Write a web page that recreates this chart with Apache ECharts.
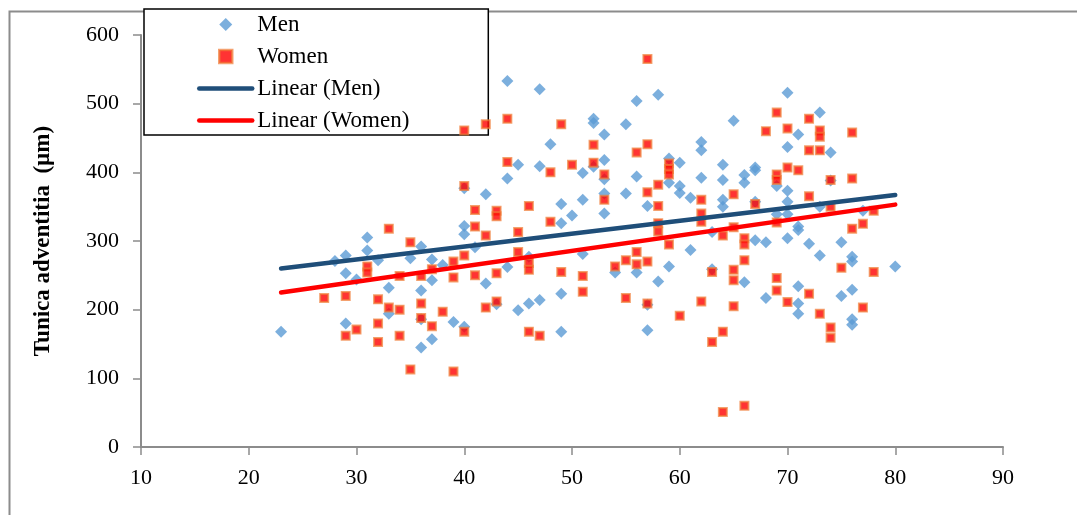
<!DOCTYPE html>
<html>
<head>
<meta charset="utf-8">
<script src="https://cdn.jsdelivr.net/npm/echarts@6/dist/echarts.min.js"></script>
<style>
html,body{margin:0;padding:0;background:#fff;}
#chart{width:1077px;height:515px;}
</style>
</head>
<body>
<div id="chart"></div>
<script>
// Age (years) vs Tunica adventitia thickness (µm)
var men = [
[23,168],[28,271],[29,279],[29,253],[29,180],[30,244],[31,305],[31,286],[32,272],[33,232],[33,194],
[35,275],[36,292],[36,228],[36,186],[36,145],[37,273],[37,243],[37,157],[38,265],[39,182],[40,377],
[40,322],[40,310],[40,175],[41,291],[42,368],[42,238],[43,208],[44,533],[44,391],[44,262],[45,411],
[45,199],[46,277],[46,209],[47,521],[47,409],[47,214],[48,441],[49,354],[49,326],[49,223],[49,168],
[50,337],[51,399],[51,360],[51,281],[52,478],[52,472],[52,408],[53,455],[53,418],[53,390],[53,369],
[53,340],[54,254],[55,470],[55,369],[56,504],[56,394],[56,254],[57,351],[57,207],[57,170],[58,513],
[58,241],[59,420],[59,385],[59,263],[60,414],[60,380],[60,370],[61,363],[61,287],[62,444],[62,432],
[62,392],[63,313],[63,259],[64,411],[64,389],[64,360],[64,350],[65,475],[66,396],[66,385],[66,240],
[67,407],[67,403],[67,357],[67,301],[68,298],[68,217],[69,380],[69,339],[70,516],[70,437],[70,373],
[70,357],[70,339],[70,304],[71,455],[71,321],[71,316],[71,234],[71,209],[71,194],[72,296],[73,487],
[73,350],[73,279],[74,429],[74,388],[75,298],[75,220],[76,277],[76,270],[76,229],[76,186],[76,178],
[77,344],[80,263]
];
var women = [
[27,217],[29,220],[29,162],[30,171],[31,263],[31,254],[32,215],[32,180],[32,153],[33,318],[33,203],
[34,249],[34,200],[34,162],[35,298],[35,113],[36,249],[36,209],[36,188],[37,259],[37,176],[38,197],
[39,270],[39,247],[39,110],[40,461],[40,380],[40,279],[40,168],[41,345],[41,321],[41,250],[42,470],
[42,308],[42,203],[43,344],[43,336],[43,253],[43,212],[44,478],[44,415],[45,313],[45,284],[46,351],
[46,268],[46,258],[46,168],[47,162],[48,400],[48,328],[49,470],[49,255],[50,411],[51,249],[51,226],
[52,440],[52,414],[53,397],[53,360],[54,263],[55,272],[55,217],[56,429],[56,284],[56,266],[57,565],
[57,441],[57,371],[57,270],[57,209],[58,382],[58,351],[58,326],[58,314],[59,413],[59,405],[59,397],
[59,295],[60,191],[62,360],[62,340],[62,328],[62,212],[63,255],[63,153],[64,308],[64,168],[64,51],
[65,368],[65,320],[65,258],[65,243],[65,205],[66,304],[66,295],[66,272],[66,60],[67,354],[68,460],
[69,487],[69,397],[69,389],[69,327],[69,246],[69,228],[70,464],[70,407],[70,211],[71,403],[72,478],
[72,432],[72,365],[72,223],[73,461],[73,452],[73,432],[73,194],[74,389],[74,350],[74,174],[74,159],
[75,261],[76,458],[76,391],[76,318],[77,325],[77,203],[78,344],[78,255]
];
var menTrend = [[23,260],[80,367]];
var womenTrend = [[23,225],[80,353]];
var seriesNames = ['Men','Women','Linear (Men)','Linear (Women)'];
var yTitle = 'Tunica adventitia  (\u00b5m)';

var FONT = 'Liberation Serif, Times New Roman, serif';
var DIAMOND = 'path://M0,-1L1,0L0,1L-1,0Z';
var SQUARE = 'path://M0,0L1,0L1,1L0,1Z';
var chart = echarts.init(document.getElementById('chart'), null, {renderer:'canvas'});
chart.setOption({
  backgroundColor:'#fff',
  animation:false,
  graphic:[{
    type:'rect', left:7, top:9, z:-10, silent:true,
    shape:{width:1100, height:540},
    style:{fill:'none', stroke:'#8c8c8c', lineWidth:2}
  }],
  legend:{
    data:[
      {name:seriesNames[0], icon:DIAMOND},
      {name:seriesNames[1], icon:SQUARE, itemStyle:{borderWidth:2.5}},
      {name:seriesNames[2], itemStyle:{opacity:0}, lineStyle:{width:4.5, cap:'round'}},
      {name:seriesNames[3], itemStyle:{opacity:0}, lineStyle:{width:4.5, cap:'round'}}
    ],
    orient:'vertical',
    left:144, top:9,
    padding:[4,79,3,53],
    itemGap:9,
    itemWidth:53,
    itemHeight:13,
    symbolKeepAspect:true,
    backgroundColor:'#fff',
    borderColor:'#000',
    borderWidth:1.5,
    textStyle:{fontFamily:FONT, fontSize:23, color:'#000', lineHeight:22},
    z:1
  },
  grid:{left:141, right:74, top:35, bottom:68},
  xAxis:{
    type:'value', min:10, max:90, interval:10,
    axisLine:{show:true, lineStyle:{color:'#8c8c8c', width:2}},
    axisTick:{show:true, length:8, lineStyle:{color:'#8c8c8c', width:1.5}},
    splitLine:{show:false},
    axisLabel:{fontFamily:FONT, fontSize:22, color:'#000', margin:20}
  },
  yAxis:{
    type:'value', min:0, max:600, interval:100,
    name:yTitle, nameLocation:'middle', nameRotate:90, nameGap:86,
    nameTextStyle:{fontFamily:FONT, fontSize:23, fontWeight:'bold', color:'#000'},
    axisLine:{show:true, lineStyle:{color:'#8c8c8c', width:2}},
    axisTick:{show:true, length:8, lineStyle:{color:'#8c8c8c', width:1.5}},
    splitLine:{show:false},
    axisLabel:{fontFamily:FONT, fontSize:22, color:'#000', margin:22}
  },
  series:[
    {name:seriesNames[0], type:'scatter', data:men, symbol:'diamond', symbolSize:12,
     itemStyle:{color:'#5b9bd5'}, z:2},
    {name:seriesNames[1], type:'scatter', data:women, symbol:'rect', symbolSize:8,
     itemStyle:{color:'#ff0000', borderColor:'rgba(240,125,55,0.9)', borderWidth:2}, z:3},
    {name:seriesNames[2], type:'line', data:menTrend, symbol:'none', showSymbol:false,
     lineStyle:{color:'#1f4e79', width:4.5, cap:'round'}, itemStyle:{color:'#1f4e79'}, z:4},
    {name:seriesNames[3], type:'line', data:womenTrend, symbol:'none', showSymbol:false,
     lineStyle:{color:'#ff0000', width:4.5, cap:'round'}, itemStyle:{color:'#ff0000'}, z:5}
  ]
});
</script>
</body>
</html>
